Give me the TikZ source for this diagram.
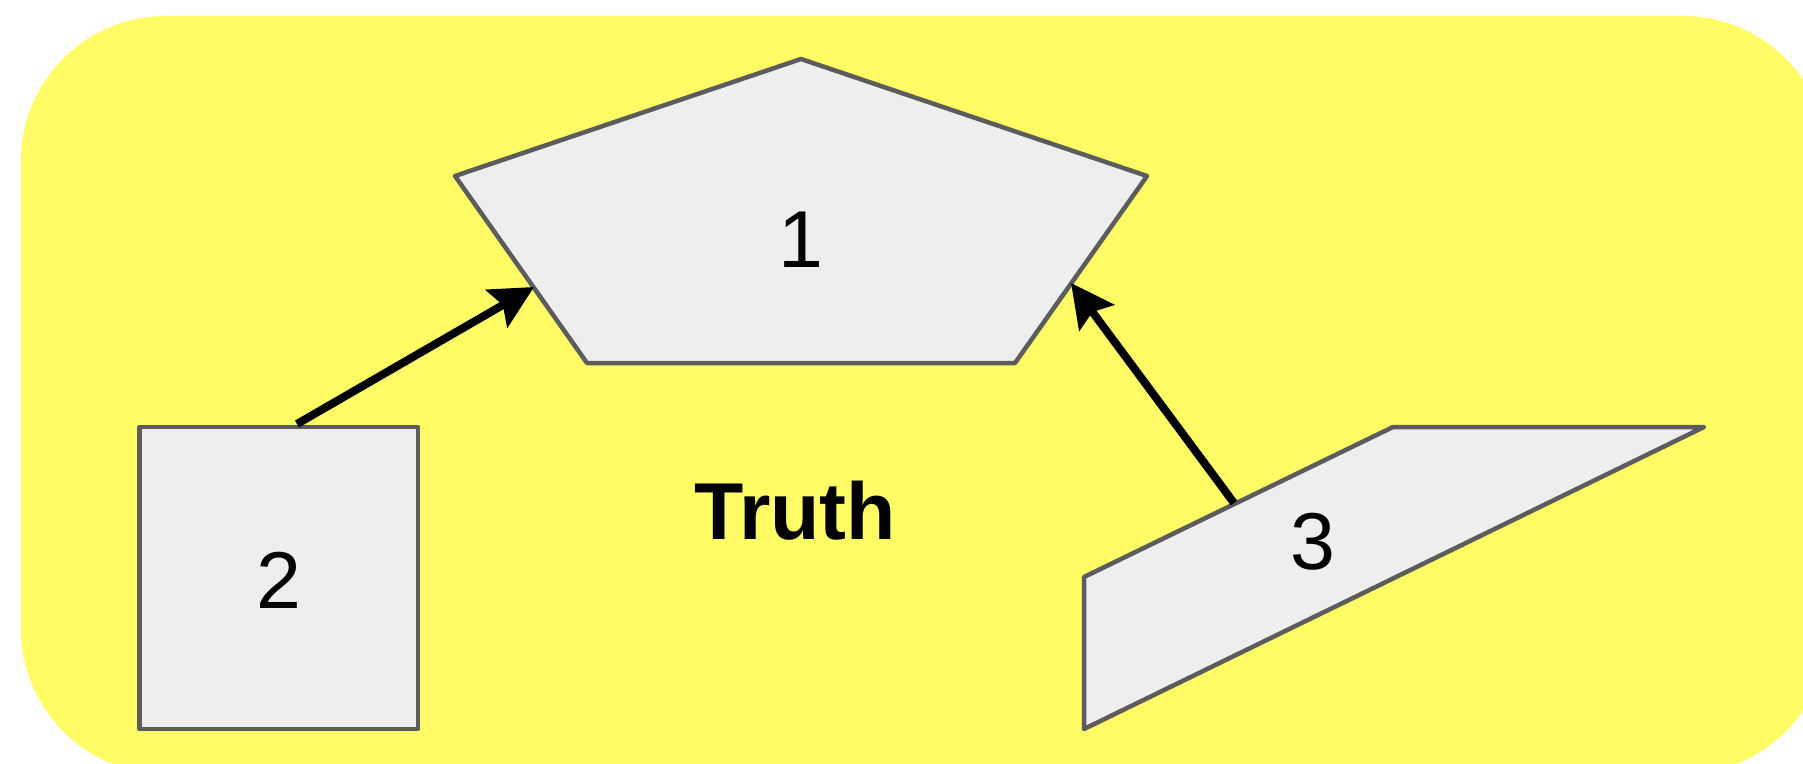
\documentclass[tikz,border=0pt]{standalone}
\usepackage{fontspec}
\setmainfont{Liberation Sans}
\usetikzlibrary{arrows.meta}
\definecolor{bgyellow}{RGB}{255,252,102}
\definecolor{shapefill}{RGB}{238,238,238}
\definecolor{shapeline}{RGB}{92,92,92}
\begin{document}
\begin{tikzpicture}[x=1bp,y=-1bp,
  shapestyle/.style={fill=shapefill,draw=shapeline,line width=4.5bp,line join=round},
  conn/.style={draw=black,line width=8bp,-{Stealth[length=43bp,width=43bp,inset=7bp]}},
  lbl/.style={inner sep=0pt,font=\fontsize{81}{97}\selectfont},
  title/.style={inner sep=0pt,font=\fontsize{81}{97}\selectfont\bfseries}]
\useasboundingbox (0,0) rectangle (1803,764);
\clip (0,0) rectangle (1803,764);
% container
\fill[bgyellow,rounded corners=145bp] (21,16) rectangle (1828,774);
% shape 1: pentagon
\draw[shapestyle] (455,176) -- (801,59) -- (1147,176) -- (1015,363) -- (587,363) -- cycle;
% shape 2: box
\draw[shapestyle] (139.5,427) rectangle (418,729);
% shape 3: quadrilateral
\draw[shapestyle] (1084,729) -- (1084,577) -- (1393,427) -- (1704,427) -- cycle;
% connector ends
\coordinate (b2top) at (297,424);
\coordinate (p1left) at (534,287);
\coordinate (q3top) at (1234,503);
\coordinate (p1right) at (1071,283);
\draw[conn] (b2top) -- (p1left);
\draw[conn] (q3top) -- (p1right);
% labels
\node[lbl] (n1) at (801,240) {1};
\node[lbl] (n2) at (279,580) {2};
\node[lbl] (n3) at (1313,542) {3};
\node[title] (truth) at (795,511) {Truth};
\end{tikzpicture}
\end{document}
